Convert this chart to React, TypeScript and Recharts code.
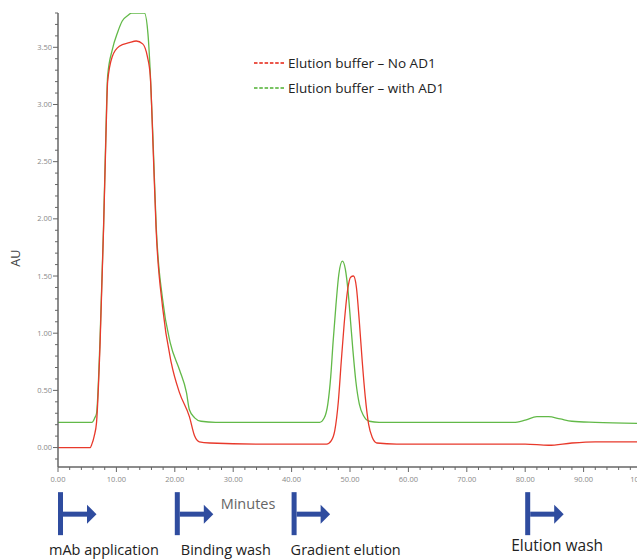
import React from 'react';
import { LineChart, Line, XAxis, YAxis, ReferenceDot, Legend } from 'recharts';

// ---- data ----
const noAd1Time = [0, 5.5, 5.8, 6.2, 6.6, 7.2, 7.8, 8.2, 8.5, 9.3, 10.5, 12.2, 13.4, 14.5, 15.3, 15.8, 16.3, 16.8, 17.9, 19.4, 20.8, 22.5, 23.4, 24.2, 26, 35, 45, 46.0, 46.8, 47.4, 48.0, 48.5, 49.0, 49.6, 50.1, 50.6, 51.1, 51.6, 52.1, 52.6, 53.2, 53.8, 54.6, 58, 70, 80, 84, 88, 92, 96, 100];
const noAd1AU = [0, 0, 0.03, 0.10, 0.22, 0.9, 1.91, 2.7, 3.2, 3.42, 3.51, 3.54, 3.555, 3.53, 3.42, 3.25, 2.6, 1.91, 1.23, 0.74, 0.48, 0.27, 0.10, 0.05, 0.04, 0.03, 0.03, 0.03, 0.06, 0.15, 0.40, 0.75, 1.08, 1.38, 1.49, 1.50, 1.40, 1.10, 0.75, 0.45, 0.20, 0.09, 0.04, 0.03, 0.03, 0.03, 0.02, 0.04, 0.05, 0.05, 0.05];

const withAd1Time = [0, 5.8, 6.3, 6.6, 7.2, 7.8, 8.2, 8.5, 9.3, 10.2, 11.0, 12.0, 12.6, 13.5, 14.8, 15.4, 15.8, 16.3, 16.8, 17.9, 19.2, 20.8, 22.0, 22.5, 23.4, 24.5, 27, 35, 44.8, 45.6, 46.2, 46.7, 47.1, 47.6, 48.1, 48.7, 49.2, 49.7, 50.1, 50.5, 51.0, 51.6, 52.3, 53.3, 55, 65, 78, 80, 82, 84, 86, 88, 92, 100];
const withAd1AU = [0.22, 0.22, 0.26, 0.30, 0.95, 1.93, 2.75, 3.25, 3.48, 3.63, 3.73, 3.78, 3.8, 3.8, 3.8, 3.62, 3.28, 2.65, 1.95, 1.30, 0.92, 0.68, 0.48, 0.33, 0.26, 0.23, 0.22, 0.22, 0.22, 0.26, 0.38, 0.62, 0.92, 1.25, 1.52, 1.63, 1.56, 1.35, 1.10, 0.85, 0.58, 0.38, 0.28, 0.23, 0.22, 0.22, 0.22, 0.24, 0.27, 0.27, 0.25, 0.23, 0.22, 0.21];

const seriesNames = ['Elution buffer \u2013 No AD1', 'Elution buffer \u2013 with AD1'];

const xMajorTicks = [0, 10, 20, 30, 40, 50, 60, 70, 80, 90, 100];
const yMajorTicks = [0, 0.5, 1, 1.5, 2, 2.5, 3, 3.5];

const phaseStart = [0, 20, 40, 80];
const phaseLabels = ['mAb application', 'Binding wash', 'Gradient elution', 'Elution wash'];

// ---- styles ----
const RED = '#e8392b';
const GREEN = '#62b948';
const BLUE = '#2f4c9f';
const AXIS = '#666';
const FONT = '"Open Sans", "Noto Sans", sans-serif';
const X_DOMAIN: [number, number] = [0, 100];
const Y_DOMAIN: [number, number] = [-0.17, 3.8];
const MARKER_Y = -0.39;
const labelDx = [-9, 6, -1, -14];
const labelDy = [63, 63, 63, 59];
const labelSize = [14.5, 14.5, 14.5, 15.5];

// minor ticks: 5 subdivisions of each major interval
const xTicks: number[] = [];
for (let i = 0; i <= 50; i++) xTicks.push(i * 2);
const yTicks: number[] = [];
for (let i = -1; i <= 38; i++) yTicks.push(Math.round(i * 10) / 100);

const noAd1Data = noAd1Time.map((t, i) => ({ t, v: noAd1AU[i] }));
const withAd1Data = withAd1Time.map((t, i) => ({ t, v: withAd1AU[i] }));

const isMajor = (v: number, list: number[]) => list.some((m) => Math.abs(m - v) < 1e-6);

const YTick = (props: any) => {
  const { x, y, payload } = props;
  const v = payload.value;
  const major = isMajor(v, yMajorTicks);
  return (
    <g>
      <line x1={x} x2={x - (major ? 5 : 3)} y1={y} y2={y} stroke={AXIS} strokeWidth={1} />
      {major && (
        <text x={x - 6} y={y} dy={2.6} textAnchor="end" fontSize={7.5} fill="#888" fontFamily={FONT}>
          {v.toFixed(2)}
        </text>
      )}
    </g>
  );
};

const XTick = (props: any) => {
  const { x, y, payload } = props;
  const v = payload.value;
  const major = isMajor(v, xMajorTicks);
  return (
    <g>
      <line x1={x} x2={x} y1={y} y2={y + (major ? 5 : 3)} stroke={AXIS} strokeWidth={1} />
      {major && (
        <text x={x} y={y + 15} textAnchor="middle" fontSize={7.5} fill="#888" fontFamily={FONT}>
          {v.toFixed(2)}
        </text>
      )}
    </g>
  );
};

const AuLabel = (props: any) => {
  const vb = props.viewBox;
  const cx = vb.x + 16;
  const cy = vb.y + vb.height * 0.54;
  return (
    <text x={cx} y={cy} transform={`rotate(-90 ${cx} ${cy})`} textAnchor="middle" dominantBaseline="central" fontSize={12.5} fill="#444" fontFamily={FONT}>
      AU
    </text>
  );
};

const MinutesLabel = (props: any) => {
  const vb = props.viewBox;
  return (
    <text x={vb.x + 190} y={vb.y + 42} textAnchor="middle" fontSize={14.5} fill="#666" fontFamily={FONT}>
      Minutes
    </text>
  );
};

const PhaseMarker = (props: any) => {
  const { cx, cy, idx } = props;
  return (
    <g>
      <rect x={cx} y={cy} width={5} height={43} fill={BLUE} />
      <rect x={cx + 5} y={cy + 19.5} width={25} height={5} fill={BLUE} />
      <polygon points={`${cx + 29},${cy + 12.5} ${cx + 38.5},${cy + 22} ${cx + 29},${cy + 31.5}`} fill={BLUE} />
      <text x={cx + labelDx[idx]} y={cy + labelDy[idx]} fontSize={labelSize[idx]} fill="#222" fontFamily={FONT}>
        {phaseLabels[idx]}
      </text>
    </g>
  );
};

const LegendContent = () => {
  const colors = [RED, GREEN];
  return (
    <div style={{ fontFamily: FONT }}>
      {seriesNames.map((name, i) => (
        <div key={name} style={{ display: 'flex', alignItems: 'center', height: 25 }}>
          <svg width={34} height={8} style={{ display: 'block' }}>
            <line x1={0} x2={31} y1={4} y2={4} stroke={colors[i]} strokeWidth={2} strokeDasharray="3.5 1.8" opacity={0.85} />
          </svg>
          <span style={{ fontSize: 13.5, color: '#222', whiteSpace: 'nowrap', lineHeight: '16px' }}>{name}</span>
        </div>
      ))}
    </div>
  );
};

export default function App() {
  return (
    <div style={{ position: 'absolute', left: 0, top: 0, width: 637, height: 560, overflow: 'hidden', background: '#fff' }}>
      <LineChart width={662} height={560} margin={{ top: 13, right: 20, bottom: 0, left: 0 }}>
        <XAxis
          dataKey="t"
          type="number"
          domain={X_DOMAIN}
          ticks={xTicks}
          interval={0}
          tick={<XTick />}
          tickSize={0}
          tickMargin={0}
          tickLine={false}
          height={93}
          axisLine={{ stroke: AXIS, strokeWidth: 1.5 }}
          allowDataOverflow
          label={{ content: <MinutesLabel /> }}
        />
        <XAxis
          xAxisId="top"
          orientation="top"
          type="number"
          domain={X_DOMAIN}
          height={0}
          tick={false}
          tickLine={false}
          axisLine={{ stroke: AXIS, strokeWidth: 1.5 }}
        />
        <YAxis
          type="number"
          domain={Y_DOMAIN}
          ticks={yTicks}
          interval={0}
          tick={<YTick />}
          tickSize={0}
          tickMargin={0}
          tickLine={false}
          width={58}
          axisLine={{ stroke: AXIS, strokeWidth: 1.5 }}
          allowDataOverflow
          label={{ content: <AuLabel /> }}
        />
        <Legend
          layout="vertical"
          align="center"
          verticalAlign="middle"
          content={<LegendContent />}
          wrapperStyle={{ top: 50, left: 254, width: 260 }}
        />
        <Line
          data={withAd1Data}
          dataKey="v"
          name={seriesNames[1]}
          type="monotone"
          stroke={GREEN}
          strokeWidth={1.3}
          dot={false}
          isAnimationActive={false}
        />
        <Line
          data={noAd1Data}
          dataKey="v"
          name={seriesNames[0]}
          type="monotone"
          stroke={RED}
          strokeWidth={1.3}
          dot={false}
          isAnimationActive={false}
        />
        {phaseStart.map((p, i) => (
          <ReferenceDot
            key={phaseLabels[i]}
            x={p}
            y={MARKER_Y}
            r={0}
            ifOverflow="visible"
            shape={(sp: any) => <PhaseMarker {...sp} idx={i} />}
          />
        ))}
      </LineChart>
    </div>
  );
}
